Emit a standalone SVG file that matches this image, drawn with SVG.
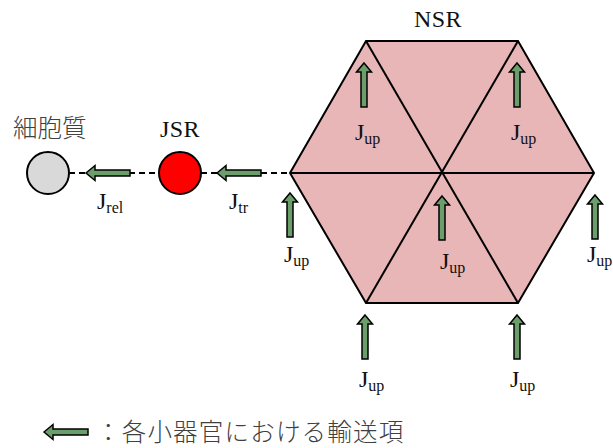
<svg xmlns="http://www.w3.org/2000/svg" xmlns:xlink="http://www.w3.org/1999/xlink" width="613" height="448" viewBox="0 0 613 448">
<style>
.arr{fill:#6b9e6b;stroke:#000;stroke-width:1.5;stroke-linejoin:miter}
.edge{stroke:#000;stroke-width:2;fill:none}
.dash{stroke:#000;stroke-width:2;stroke-dasharray:6 4;fill:none}
.lbl{font-family:"Liberation Serif","Times New Roman",serif;font-size:24px;fill:#111}
.sub{font-size:16px}
.jp{font-family:"Noto Sans CJK JP","Noto Sans",sans-serif;font-size:24.5px;font-weight:300;fill:#404040}
.ttl{font-family:"Liberation Serif","Times New Roman",serif;font-size:24px;fill:#111}
</style>
<defs>
<path id="arrL" class="arr" d="M0,0 L9,-7.5 L9,-3 L44,-3 L44,3 L9,3 L9,7.5 Z"/>
<path id="arrU" class="arr" d="M0,0 L7.5,9 L3,9 L3,44 L-3,44 L-3,9 L-7.5,9 Z"/>
</defs>
<g id="connectors">
<line class="dash" x1="69" y1="173" x2="159" y2="173"/>
<line class="dash" x1="201" y1="173" x2="290" y2="173"/>
</g>
<g id="cytoplasm">
<circle cx="48" cy="173" r="21" fill="#d9d9d9" stroke="#000" stroke-width="2"/>
<text class="jp" x="13" y="137">細胞質</text>
</g>
<g id="jsr">
<circle cx="180" cy="173" r="21" fill="#ff0000" stroke="#000" stroke-width="2"/>
<text class="ttl" x="180" y="137" text-anchor="middle" letter-spacing="0.5">JSR</text>
</g>
<g id="nsr">
<polygon points="290,173 366,41 518,41 594,173 518,303 366,303" fill="#e8b6b6" stroke="#000" stroke-width="2"/>
<line class="edge" x1="366" y1="41" x2="518" y2="303"/>
<line class="edge" x1="518" y1="41" x2="366" y2="303"/>
<line class="edge" x1="290" y1="173" x2="594" y2="173"/>
<text class="ttl" x="438" y="27" text-anchor="middle" letter-spacing="0.5">NSR</text>
</g>
<g id="flux-rel">
<use xlink:href="#arrL" x="86" y="173"/>
<text class="lbl" x="97" y="209">J<tspan class="sub" dy="4">rel</tspan></text>
</g>
<g id="flux-tr">
<use xlink:href="#arrL" x="217" y="173"/>
<text class="lbl" x="229" y="209">J<tspan class="sub" dy="4">tr</tspan></text>
</g>
<g id="flux-up">
<use xlink:href="#arrU" x="364" y="63"/>
<text class="lbl" x="355" y="140">J<tspan class="sub" dy="4">up</tspan></text>
<use xlink:href="#arrU" x="517" y="63"/>
<text class="lbl" x="511" y="140">J<tspan class="sub" dy="4">up</tspan></text>
<use xlink:href="#arrU" x="442" y="196"/>
<text class="lbl" x="440" y="269">J<tspan class="sub" dy="4">up</tspan></text>
<use xlink:href="#arrU" x="290" y="193"/>
<text class="lbl" x="284" y="262">J<tspan class="sub" dy="4">up</tspan></text>
<use xlink:href="#arrU" x="595" y="195"/>
<text class="lbl" x="587" y="262">J<tspan class="sub" dy="4">up</tspan></text>
<use xlink:href="#arrU" x="365" y="315"/>
<text class="lbl" x="359" y="387">J<tspan class="sub" dy="4">up</tspan></text>
<use xlink:href="#arrU" x="517" y="315"/>
<text class="lbl" x="510" y="387">J<tspan class="sub" dy="4">up</tspan></text>
</g>
<g id="legend">
<use xlink:href="#arrL" x="44" y="432"/>
<text class="jp" x="96" y="441" letter-spacing="1.2">：各小器官における輸送項</text>
</g>
</svg>
